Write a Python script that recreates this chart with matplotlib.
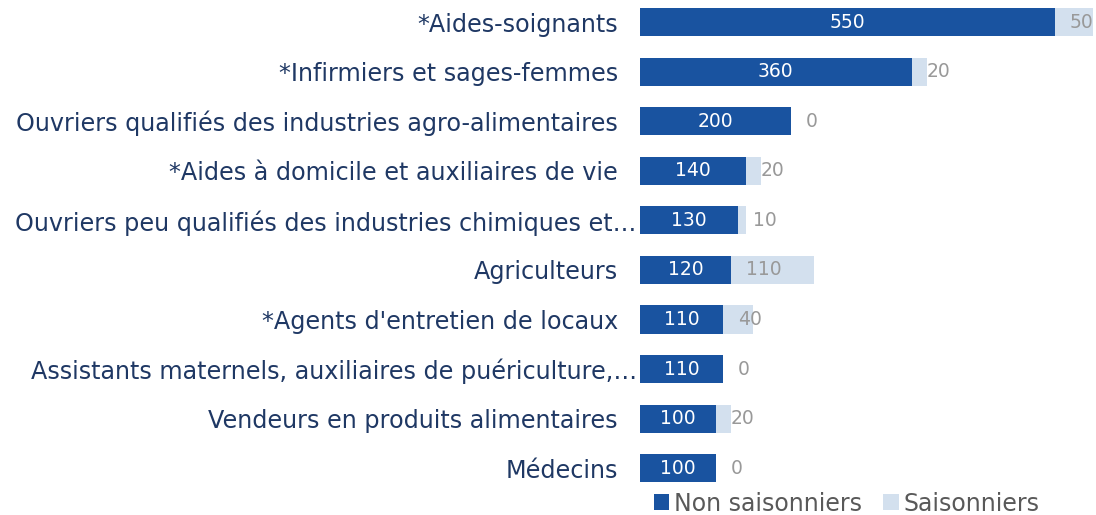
import matplotlib.pyplot as plt
import matplotlib.transforms as mtransforms
import numpy as np

categories = [
    "*Aides-soignants",
    "*Infirmiers et sages-femmes",
    "Ouvriers qualifiés des industries agro-alimentaires",
    "*Aides à domicile et auxiliaires de vie",
    "Ouvriers peu qualifiés des industries chimiques et…",
    "Agriculteurs",
    "*Agents d'entretien de locaux",
    "Assistants maternels, auxiliaires de puériculture,…",
    "Vendeurs en produits alimentaires",
    "Médecins",
]
non_saison = [550, 360, 200, 140, 130, 120, 110, 110, 100, 100]
saison = [50, 20, 0, 20, 10, 110, 40, 0, 20, 0]

dark = "#1953a0"
light = "#d3e0ee"
navy = "#1f3864"

fig = plt.figure(figsize=(10.96, 5.15), dpi=100)
ax = fig.add_axes([0.584, 0.0485, 0.413, 0.951])

y = np.arange(len(categories))
h = 0.57
b1 = ax.barh(y, non_saison, height=h, color=dark, label="Non saisonniers")
b2 = ax.barh(y, saison, left=non_saison, height=h, color=light, label="Saisonniers")

# labels
for i in range(len(categories)):
    ax.text(non_saison[i] / 2, y[i], str(non_saison[i]), ha="center", va="center",
            color="white", fontsize=13.5)
    ax.annotate(str(saison[i]), xy=(non_saison[i], y[i]), xytext=(15, 0),
                textcoords="offset pixels", ha="left", va="center",
                color="#999999", fontsize=13.5, annotation_clip=False)

ax.set_xlim(0, 600)
ax.set_ylim(9.44, -0.44)
ax.set_yticks(y)
ax.set_yticklabels(categories, fontsize=17.2, color=navy)
ax.tick_params(axis="y", length=0, pad=16)
ax.set_xticks([])
for s in ax.spines.values():
    s.set_visible(False)

# truncated labels sit closer to the bars
shift = mtransforms.ScaledTranslation(19 / 100, 0, fig.dpi_scale_trans)
for lab in ax.get_yticklabels():
    if lab.get_text().endswith("…"):
        lab.set_transform(lab.get_transform() + shift)

fig.legend(handles=[b1, b2], loc="lower left", bbox_to_anchor=(0.586, -0.024),
           ncol=2, frameon=False, fontsize=17, labelcolor="#595959",
           handlelength=0.65, handleheight=0.65, handletextpad=0.2,
           columnspacing=0.9, borderpad=0.0)

fig.savefig("out.png", dpi=100)
